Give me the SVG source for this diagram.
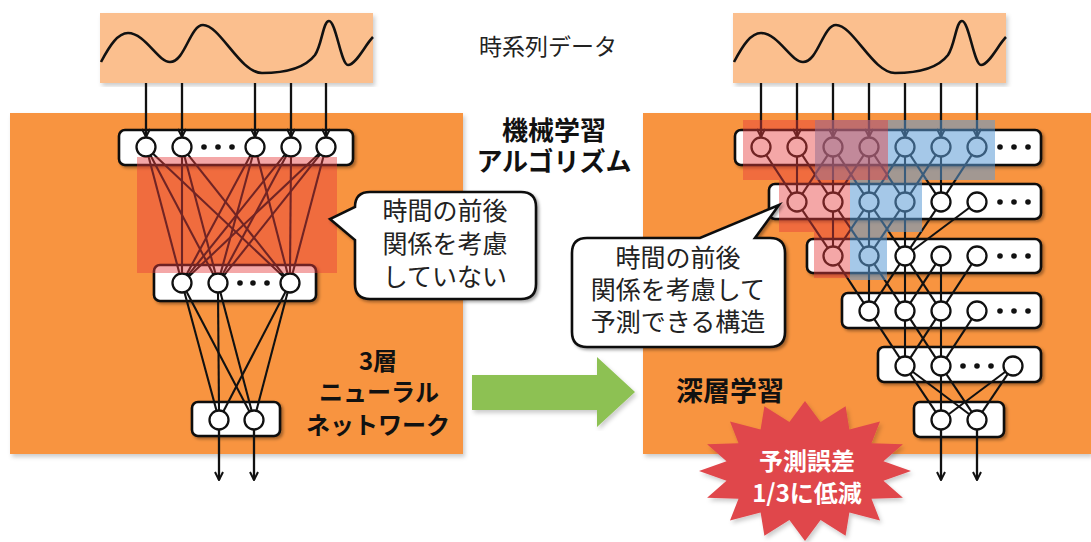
<svg xmlns="http://www.w3.org/2000/svg" width="1091" height="542" viewBox="0 0 1091 542">
<defs>
<style>
.panel{fill:#F8943F}
.wavebox{fill:#FBBF8E}
.wave{fill:none;stroke:#111;stroke-width:2.6}
.box{fill:#fff;stroke:#111;stroke-width:2.6}
.nd{fill:#fff;stroke:#111;stroke-width:2.3}
.dot{fill:#111}
.cn{stroke:#111;stroke-width:2.1;fill:none}
.ar{stroke:#111;stroke-width:2.3;fill:none}
.red{fill:#E63B3B;opacity:0.45}
.blue{fill:#5B9BD5;opacity:0.55}
.callout{fill:#fff;stroke:#111;stroke-width:2.6}
.ct{font-family:"Noto Sans CJK JP","Noto Sans CJK SC",sans-serif;font-size:25px;fill:#222;text-anchor:middle}
.tt{font-family:"Noto Sans CJK JP","Noto Sans CJK SC",sans-serif;font-weight:700;fill:#111;text-anchor:middle}
.st{font-family:"Noto Sans CJK JP","Noto Sans CJK SC",sans-serif;font-weight:700;font-size:24px;fill:#fff;text-anchor:middle}
</style>
<filter id="sh" x="-10%" y="-10%" width="130%" height="140%">
<feDropShadow dx="2" dy="2" stdDeviation="1.5" flood-color="#000" flood-opacity="0.35"/>
</filter>
<filter id="psh" x="-5%" y="-5%" width="110%" height="110%">
<feDropShadow dx="2" dy="3" stdDeviation="2" flood-color="#000" flood-opacity="0.2"/>
</filter>
<marker id="ah" viewBox="0 0 10 10" refX="9" refY="5" markerWidth="10" markerHeight="10" markerUnits="userSpaceOnUse" orient="auto">
<path d="M1,1 L9,5 L1,9" fill="none" stroke="#111" stroke-width="2"/>
</marker>
<path id="wv" d="M101,62 C110,45 118,33 128,33 C145,33 158,62 170,62 C185,62 190,25 203,25 C220,25 240,73 262,73 C285,73 305,68 315,55 C322,45 323,21 329,21 C336,21 341,65 348,65 C356,65 365,45 373,37"/>
</defs>

<g id="panel-left"><rect class="panel" x="10" y="113" width="453" height="341" filter="url(#psh)"/></g>
<g id="panel-right"><rect class="panel" x="643" y="113" width="448" height="341" filter="url(#psh)"/></g>

<g id="wave-left"><rect class="wavebox" x="100" y="13" width="273" height="70" filter="url(#psh)"/><use href="#wv" class="wave"/></g>
<g id="wave-right"><rect class="wavebox" x="733" y="13" width="273" height="70" filter="url(#psh)"/><use href="#wv" class="wave" transform="translate(633,0)"/></g>

<g id="label-timeseries"><text x="548" y="55" class="ct" style="font-size:23px">時系列データ</text></g>

<g id="left-input">
<rect class="box" x="119" y="130" width="234" height="35" rx="6" filter="url(#sh)"/>
<circle class="nd" cx="146" cy="147" r="9.5"/><circle class="nd" cx="182" cy="147" r="9.5"/>
<circle class="dot" cx="204" cy="147" r="2.8"/><circle class="dot" cx="218" cy="147" r="2.8"/><circle class="dot" cx="232" cy="147" r="2.8"/>
<circle class="nd" cx="255" cy="147" r="9.5"/><circle class="nd" cx="291" cy="147" r="9.5"/><circle class="nd" cx="326" cy="147" r="9.5"/>
</g>
<g id="left-hidden">
<rect class="box" x="154" y="265" width="162" height="36" rx="6" filter="url(#sh)"/>
<circle class="nd" cx="182" cy="283" r="9.5"/><circle class="nd" cx="218" cy="283" r="9.5"/>
<circle class="dot" cx="240" cy="283" r="2.8"/><circle class="dot" cx="253" cy="283" r="2.8"/><circle class="dot" cx="267" cy="283" r="2.8"/>
<circle class="nd" cx="290" cy="283" r="9.5"/>
</g>
<g id="left-output">
<rect class="box" x="192" y="402" width="88" height="34" rx="6" filter="url(#sh)"/>
<circle class="nd" cx="219" cy="420" r="9.5"/><circle class="nd" cx="254" cy="420" r="9.5"/>
</g>

<g id="right-l1">
<rect class="box" x="735" y="130" width="306" height="35" rx="6" filter="url(#sh)"/>
<circle class="nd" cx="761" cy="147" r="9.5"/><circle class="nd" cx="797" cy="147" r="9.5"/><circle class="nd" cx="833" cy="147" r="9.5"/><circle class="nd" cx="869" cy="147" r="9.5"/><circle class="nd" cx="905" cy="147" r="9.5"/><circle class="nd" cx="941" cy="147" r="9.5"/><circle class="nd" cx="977" cy="147" r="9.5"/>
<circle class="dot" cx="1000" cy="147" r="2.8"/><circle class="dot" cx="1014" cy="147" r="2.8"/><circle class="dot" cx="1028" cy="147" r="2.8"/>
</g>
<g id="right-l2">
<rect class="box" x="769" y="184" width="272" height="35" rx="6" filter="url(#sh)"/>
<circle class="nd" cx="797" cy="202" r="9.5"/><circle class="nd" cx="833" cy="202" r="9.5"/><circle class="nd" cx="869" cy="202" r="9.5"/><circle class="nd" cx="905" cy="202" r="9.5"/><circle class="nd" cx="941" cy="202" r="9.5"/><circle class="nd" cx="977" cy="202" r="9.5"/>
<circle class="dot" cx="1000" cy="202" r="2.8"/><circle class="dot" cx="1014" cy="202" r="2.8"/><circle class="dot" cx="1028" cy="202" r="2.8"/>
</g>
<g id="right-l3">
<rect class="box" x="807" y="239" width="234" height="34" rx="6" filter="url(#sh)"/>
<circle class="nd" cx="833" cy="256" r="9.5"/><circle class="nd" cx="869" cy="256" r="9.5"/><circle class="nd" cx="905" cy="256" r="9.5"/><circle class="nd" cx="941" cy="256" r="9.5"/><circle class="nd" cx="977" cy="256" r="9.5"/>
<circle class="dot" cx="1000" cy="256" r="2.8"/><circle class="dot" cx="1014" cy="256" r="2.8"/><circle class="dot" cx="1028" cy="256" r="2.8"/>
</g>
<g id="right-l4">
<rect class="box" x="842" y="293" width="199" height="35" rx="6" filter="url(#sh)"/>
<circle class="nd" cx="869" cy="311" r="9.5"/><circle class="nd" cx="905" cy="311" r="9.5"/><circle class="nd" cx="941" cy="311" r="9.5"/><circle class="nd" cx="977" cy="311" r="9.5"/>
<circle class="dot" cx="1000" cy="311" r="2.8"/><circle class="dot" cx="1014" cy="311" r="2.8"/><circle class="dot" cx="1028" cy="311" r="2.8"/>
</g>
<g id="right-l5">
<rect class="box" x="878" y="347" width="163" height="35" rx="6" filter="url(#sh)"/>
<circle class="nd" cx="905" cy="366" r="9.5"/><circle class="nd" cx="941" cy="366" r="9.5"/>
<circle class="dot" cx="963" cy="366" r="2.8"/><circle class="dot" cx="977" cy="366" r="2.8"/><circle class="dot" cx="991" cy="366" r="2.8"/>
<circle class="nd" cx="1013" cy="366" r="9.5"/>
</g>
<g id="right-output">
<rect class="box" x="914" y="402" width="90" height="35" rx="6" filter="url(#sh)"/>
<circle class="nd" cx="941" cy="420" r="9.5"/><circle class="nd" cx="977" cy="420" r="9.5"/>
</g>

<g id="connectors">
<g class="ar" marker-end="url(#ah)">
<line x1="146" y1="83" x2="146" y2="137"/><line x1="182" y1="83" x2="182" y2="137"/><line x1="255" y1="83" x2="255" y2="137"/><line x1="291" y1="83" x2="291" y2="137"/><line x1="326" y1="83" x2="326" y2="137"/>
<line x1="219" y1="430" x2="219" y2="480"/><line x1="254" y1="430" x2="254" y2="480"/>
<line x1="761" y1="83" x2="761" y2="137"/><line x1="797" y1="83" x2="797" y2="137"/><line x1="833" y1="83" x2="833" y2="137"/><line x1="869" y1="83" x2="869" y2="137"/><line x1="905" y1="83" x2="905" y2="137"/><line x1="941" y1="83" x2="941" y2="137"/><line x1="977" y1="83" x2="977" y2="137"/>
<line x1="941" y1="430" x2="941" y2="480"/><line x1="977" y1="430" x2="977" y2="480"/>
</g>
<g class="cn">
<line x1="148.6" y1="156.7" x2="179.4" y2="273.3"/><line x1="150.7" y1="155.8" x2="213.3" y2="274.2"/><line x1="153.3" y1="153.9" x2="282.7" y2="276.1"/>
<line x1="182" y1="157" x2="182" y2="273"/><line x1="184.6" y1="156.7" x2="215.4" y2="273.3"/><line x1="188.2" y1="154.8" x2="283.8" y2="275.2"/>
<line x1="250.3" y1="155.8" x2="186.7" y2="274.2"/><line x1="252.4" y1="156.7" x2="220.6" y2="273.4"/><line x1="257.5" y1="156.7" x2="287.5" y2="273.3"/>
<line x1="284.7" y1="154.8" x2="188.2" y2="275.2"/><line x1="286.3" y1="155.8" x2="222.7" y2="274.2"/><line x1="291" y1="157" x2="290" y2="273"/>
<line x1="318.7" y1="153.9" x2="189.3" y2="276.1"/><line x1="319.8" y1="154.8" x2="224.2" y2="275.2"/><line x1="323.4" y1="156.7" x2="292.6" y2="273.3"/>
<line x1="184.6" y1="292.7" x2="216.4" y2="410.3"/><line x1="186.7" y1="291.9" x2="249.3" y2="411.2"/>
<line x1="218" y1="293" x2="219" y2="410"/><line x1="220.5" y1="292.7" x2="251.5" y2="410.3"/>
<line x1="285.4" y1="291.9" x2="223.6" y2="411.1"/><line x1="287.5" y1="292.7" x2="256.5" y2="410.3"/>
<line x1="766.5" y1="155.4" x2="791.5" y2="193.6"/><line x1="797" y1="157" x2="797" y2="192"/><line x1="827.5" y1="155.4" x2="802.5" y2="193.6"/>
<line x1="802.5" y1="155.4" x2="827.5" y2="193.6"/><line x1="833" y1="157" x2="833" y2="192"/><line x1="863.5" y1="155.4" x2="838.5" y2="193.6"/>
<line x1="838.5" y1="155.4" x2="863.5" y2="193.6"/><line x1="869" y1="157" x2="869" y2="192"/><line x1="899.5" y1="155.4" x2="874.5" y2="193.6"/>
<line x1="874.5" y1="155.4" x2="899.5" y2="193.6"/><line x1="905" y1="157" x2="905" y2="192"/><line x1="935.5" y1="155.4" x2="910.5" y2="193.6"/>
<line x1="910.5" y1="155.4" x2="935.5" y2="193.6"/><line x1="941" y1="157" x2="941" y2="192"/><line x1="971.5" y1="155.4" x2="946.5" y2="193.6"/>
<line x1="802.5" y1="210.4" x2="827.5" y2="247.6"/><line x1="833" y1="212" x2="833" y2="246"/><line x1="863.5" y1="210.4" x2="838.5" y2="247.6"/>
<line x1="838.5" y1="210.4" x2="863.5" y2="247.6"/><line x1="869" y1="212" x2="869" y2="246"/><line x1="899.5" y1="210.4" x2="874.5" y2="247.6"/>
<line x1="874.5" y1="210.4" x2="899.5" y2="247.6"/><line x1="905" y1="212" x2="905" y2="246"/><line x1="935.5" y1="210.4" x2="910.5" y2="247.6"/>
<line x1="969" y1="208" x2="913" y2="250"/>
<line x1="838.5" y1="264.4" x2="863.5" y2="302.6"/><line x1="869" y1="266" x2="869" y2="301"/><line x1="899.5" y1="264.4" x2="874.5" y2="302.6"/>
<line x1="874.5" y1="264.4" x2="899.5" y2="302.6"/><line x1="905" y1="266" x2="905" y2="301"/><line x1="935.5" y1="264.4" x2="910.5" y2="302.6"/>
<line x1="910.5" y1="264.4" x2="935.5" y2="302.6"/><line x1="941" y1="266" x2="941" y2="301"/><line x1="971.5" y1="264.4" x2="946.5" y2="302.6"/>
<line x1="874.5" y1="319.4" x2="899.5" y2="357.6"/><line x1="905" y1="321" x2="905" y2="356"/><line x1="935.5" y1="319.4" x2="910.5" y2="357.6"/>
<line x1="910.5" y1="319.4" x2="935.5" y2="357.6"/><line x1="941" y1="321" x2="941" y2="356"/><line x1="971.5" y1="319.4" x2="946.5" y2="357.6"/>
<line x1="910.5" y1="374.4" x2="935.5" y2="411.6"/><line x1="913" y1="372" x2="969" y2="414"/>
<line x1="941" y1="376" x2="941" y2="410"/><line x1="946.5" y1="374.4" x2="971.5" y2="411.6"/>
<line x1="1005" y1="372" x2="949" y2="414"/><line x1="1007.5" y1="374.4" x2="982.5" y2="411.6"/>
</g>
</g>

<g id="highlight-left"><rect class="red" x="137" y="157" width="200" height="116"/></g>
<g id="highlight-right-blue"><path class="blue" d="M815,120 H995 V180 H922 V232 H887 V280 H850 V180 H815 Z"/></g>
<g id="highlight-right-red"><path class="red" d="M743,120 H888 V180 H850 V278 H814 V232 H779 V180 H743 Z"/></g>

<g id="callout-left">
<path class="callout" filter="url(#sh)" d="M370,192 H521 Q536,192 536,207 V284 Q536,299 521,299 H370 Q355,299 355,284 V240 L330,219 L355,207 Q355,192 370,192 Z"/>
<text class="ct" x="445" y="220">時間の前後</text>
<text class="ct" x="445" y="253">関係を考慮</text>
<text class="ct" x="445" y="286">していない</text>
</g>

<g id="callout-right">
<path class="callout" filter="url(#sh)" d="M587,238 H700 L779,205 L755,238 H770 Q785,238 785,253 V332 Q785,347 770,347 H587 Q572,347 572,332 V253 Q572,238 587,238 Z"/>
<text class="ct" x="678" y="267">時間の前後</text>
<text class="ct" x="678" y="299">関係を考慮して</text>
<text class="ct" x="678" y="331">予測できる構造</text>
</g>

<g id="label-ml"><text class="tt" x="554" y="140" style="font-size:26px">機械学習</text><text class="tt" x="554" y="171" style="font-size:26px">アルゴリズム</text></g>
<g id="label-3layer"><text class="tt" x="378" y="370" style="font-size:24px">3層</text><text class="tt" x="379" y="401" style="font-size:24px">ニューラル</text><text class="tt" x="378" y="434" style="font-size:24px">ネットワーク</text></g>
<g id="label-deep"><text class="tt" x="730" y="401" style="font-size:27px">深層学習</text></g>

<g id="green-arrow"><path fill="#8DC153" filter="url(#psh)" d="M472,375 H597 V357 L635,392 L597,427 V410 H472 Z"/></g>

<g id="star">
<path fill="#E0474C" filter="url(#psh)" d="M805,401 L820.6,422 L845.6,406.3 L849.4,429.4 L880,421.5 L871.5,443.2 L902.9,444.2 L883.5,461.2 L911,471 L883.5,480.8 L902.9,497.8 L871.5,498.8 L880,520.5 L849.4,512.6 L845.6,535.7 L820.6,520 L805,541 L789.4,520 L764.4,535.7 L760.6,512.6 L730,520.5 L738.5,498.8 L707.1,497.8 L726.5,480.8 L699,471 L726.5,461.2 L707.1,444.2 L738.5,443.2 L730,421.5 L760.6,429.4 L764.4,406.3 L789.4,422 Z"/>
<text class="st" x="807" y="470">予測誤差</text>
<text class="st" x="807" y="502">1/3に低減</text>
</g>
</svg>
